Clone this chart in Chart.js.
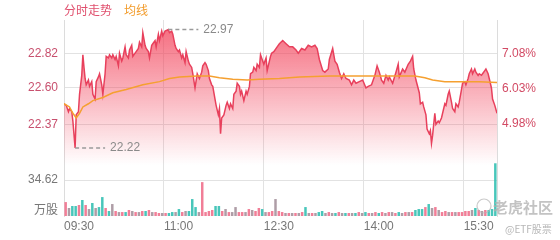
<!DOCTYPE html>
<html>
<head>
<meta charset="utf-8">
<script src="https://cdn.jsdelivr.net/npm/chart.js@4.4.1/dist/chart.umd.min.js"></script>
<style>
  html, body { margin: 0; padding: 0; background: #fff; }
  #wrap { width: 560px; height: 240px; }
</style>
</head>
<body>
<div id="wrap"><canvas id="fenshiChart" width="560" height="240"></canvas></div>
<script>
// intraday data, minutes after 09:30
const prevClose = 21.31;

const priceTimes = [
  0, 2, 4, 5, 7, 8, 10, 11, 13, 14, 16, 17, 18, 19, 20, 22, 23, 25, 26, 28,
  29, 31, 32, 34, 35, 37, 38, 40, 41, 43, 44, 46, 47, 49, 50, 52, 53, 55, 56, 58,
  59, 61, 62, 64, 65, 67, 68, 70, 71, 73, 74, 76, 77, 79, 80, 82, 83, 85, 86, 88,
  89, 91, 94, 95, 97, 98, 100, 101, 103, 104, 106, 107, 109, 110, 112, 113, 115, 116, 118, 120,
  122, 124, 125, 127, 128, 130, 131, 133, 134, 136, 137, 139, 140, 141, 142, 144, 146, 147, 149, 150,
  152, 153, 155, 156, 158, 159, 160, 162, 164, 165, 167, 168, 170, 171, 173, 174, 176, 177, 178, 180,
  182, 183, 185, 186, 187, 189, 192, 194, 197, 200, 203, 206, 209, 211, 214, 217, 220, 223, 226, 228,
  230, 233, 235, 238, 239, 242, 244, 246, 248, 250, 252, 254, 257, 259, 261, 263, 266, 269, 272, 274,
  277, 280, 282, 284, 286, 288, 290, 292, 293, 296, 299, 301, 302, 305, 307, 310, 312, 314, 315, 317,
  320, 321, 323, 324, 326, 327, 329, 330, 331, 332, 334, 335, 337, 338, 340, 341, 343, 344, 346, 347,
  349, 350, 352, 353, 355, 356, 358, 359, 361, 362, 364, 365, 367, 368, 370, 371, 373, 374, 376, 377,
  379, 380, 382, 383, 385, 386, 388, 390
];
const priceValues = [
  22.50, 22.49, 22.45, 22.47, 22.45, 22.39, 22.22, 22.43, 22.45, 22.56, 22.68, 22.81, 22.73, 22.66, 22.62, 22.65, 22.61, 22.64, 22.56, 22.53,
  22.64, 22.67, 22.69, 22.62, 22.56, 22.69, 22.80, 22.79, 22.81, 22.79, 22.81, 22.78, 22.80, 22.74, 22.82, 22.77, 22.79, 22.86, 22.81, 22.79,
  22.84, 22.87, 22.80, 22.82, 22.83, 22.85, 22.89, 22.86, 22.95, 22.87, 22.85, 22.83, 22.79, 22.87, 22.88, 22.90, 22.86, 22.94, 22.90, 22.96,
  22.93, 22.96, 22.97, 22.95, 22.96, 22.94, 22.87, 22.85, 22.83, 22.84, 22.79, 22.81, 22.76, 22.83, 22.77, 22.75, 22.73, 22.69, 22.60, 22.69,
  22.66, 22.70, 22.74, 22.76, 22.75, 22.71, 22.66, 22.62, 22.61, 22.53, 22.49, 22.43, 22.47, 22.31, 22.41, 22.43, 22.49, 22.51, 22.47, 22.50,
  22.47, 22.56, 22.58, 22.63, 22.61, 22.56, 22.58, 22.52, 22.58, 22.56, 22.61, 22.69, 22.70, 22.73, 22.71, 22.75, 22.73, 22.81, 22.79, 22.75,
  22.79, 22.71, 22.77, 22.80, 22.82, 22.83, 22.86, 22.88, 22.90, 22.88, 22.86, 22.86, 22.84, 22.82, 22.85, 22.84, 22.87, 22.86, 22.87, 22.85,
  22.78, 22.71, 22.70, 22.72, 22.78, 22.85, 22.77, 22.75, 22.70, 22.66, 22.69, 22.66, 22.65, 22.62, 22.65, 22.63, 22.64, 22.65, 22.60, 22.61,
  22.62, 22.68, 22.74, 22.70, 22.65, 22.63, 22.68, 22.65, 22.67, 22.63, 22.70, 22.75, 22.67, 22.72, 22.70, 22.75, 22.77, 22.80, 22.72, 22.65,
  22.57, 22.50, 22.51, 22.48, 22.43, 22.34, 22.31, 22.33, 22.25, 22.30, 22.44, 22.37, 22.39, 22.38, 22.41, 22.44, 22.50, 22.49, 22.56, 22.58,
  22.51, 22.47, 22.45, 22.50, 22.48, 22.51, 22.59, 22.63, 22.64, 22.62, 22.66, 22.69, 22.72, 22.69, 22.72, 22.70, 22.68, 22.69, 22.68, 22.69,
  22.71, 22.72, 22.69, 22.66, 22.60, 22.53, 22.49, 22.44
];

const avgTimes = [0, 5, 8, 11, 14, 17, 22, 26, 35, 44, 56, 71, 86, 95, 104, 120, 131, 140, 152, 165, 176, 194, 212, 239, 266, 316, 325, 332, 343, 360, 374, 390];
const avgValues = [
  22.50, 22.48, 22.44, 22.41, 22.44, 22.48, 22.50, 22.52, 22.54, 22.57, 22.59, 22.62, 22.64, 22.66, 22.67, 22.675,
  22.675, 22.665, 22.655, 22.65, 22.655, 22.66, 22.67, 22.675, 22.675, 22.675, 22.665, 22.65, 22.64, 22.64, 22.64, 22.635
];

// volume in 万股, one bucket per 3 minutes
const volumeValues = [
  13.4, 7.7, 9.6, 9.6, 10.6, 15.4, 10.6, 6.7, 12.5, 7.7,
  8.6, 18.2, 7.7, 4.8, 11.5, 4.8, 3.8, 3.8, 3.8, 5.8,
  4.8, 3.8, 3.8, 4.8, 4.8, 5.8, 3.8, 3.8, 2.9, 2.9,
  2.9, 2.9, 3.8, 3.8, 6.7, 3.8, 4.8, 4.8, 16.3, 8.6,
  3.8, 32.6, 3.8, 4.8, 5.8, 9.6, 9.6, 4.8, 6.7, 3.8,
  3.8, 8.6, 3.8, 3.8, 3.8, 6.7, 5.8, 4.8, 7.7, 6.7,
  3.8, 3.8, 4.8, 16.3, 4.8, 3.8, 2.9, 2.9, 2.9, 2.9,
  2.9, 3.8, 8.6, 2.9, 2.9, 2.9, 3.8, 4.8, 2.9, 3.8,
  2.9, 2.9, 3.8, 2.9, 2.9, 2.9, 2.9, 2.9, 3.8, 2.9,
  3.8, 2.9, 2.9, 3.8, 2.9, 3.8, 2.9, 3.8, 3.8, 2.9,
  3.8, 2.9, 3.8, 3.8, 3.8, 5.8, 6.7, 6.7, 8.6, 11.5,
  7.7, 8.6, 5.8, 3.8, 4.8, 3.8, 3.8, 3.8, 3.8, 3.8,
  4.8, 4.8, 5.8, 7.7, 5.8, 4.8, 5.8, 5.8, 6.7, 50.7
];
// u = up (pink), d = down (teal), n = flat (grey)
const volumeDirs = [
  'unddudundn', 'ddudnunudu', 'nunudunuun', 'uddndunddd', 'nuuuuddunu',
  'nnuununuud', 'nuunuununu', 'nudnunddnu', 'ndundundun', 'dunudununu',
  'dnunudddud', 'nunuununuu', 'uundunuddd'
].join('').split('');

const timeTicks = [0, 90, 180, 270, 360];
const timeLabels = ['09:30', '11:00', '12:30', '14:00', '15:30'];
const priceTicks = [22.82, 22.60, 22.37];
const pctTicks = [7.08, 6.03, 4.98];
const volumeTick = 34.62;
const volumeUnit = '万股';

const priceMin = 21.79;
const priceMax = 23.03;

const dirColors = { u: 'rgba(240,112,140,0.9)', d: 'rgba(52,192,178,0.9)', n: 'rgba(160,140,150,0.85)' };

const volumeTimes = volumeValues.map((_, i) => i * 3 + 1.5);

const overlayPlugin = {
  id: 'overlay',
  afterDatasetsDraw(chart) {
    const { ctx, chartArea, scales } = chart;
    ctx.save();

    // legend text
    ctx.font = "12px 'Noto Sans CJK SC', sans-serif";
    ctx.textBaseline = 'middle';
    ctx.textAlign = 'left';
    ctx.fillStyle = '#e0506e';
    ctx.fillText('分时走势', chartArea.left, 10);
    ctx.fillStyle = '#f29b2a';
    ctx.fillText('均线', chartArea.left + 60, 10);

    // volume axis labels (left side, below the price labels)
    ctx.textAlign = 'right';
    ctx.fillStyle = '#777';
    ctx.font = "12px 'Liberation Sans', sans-serif";
    ctx.fillText(volumeTick.toFixed(2), chartArea.left - 6, scales.yVol.getPixelForValue(volumeTick));
    ctx.font = "12px 'Noto Sans CJK SC', sans-serif";
    ctx.fillText(volumeUnit, chartArea.left - 6, chartArea.bottom - 7);
    ctx.textAlign = 'left';

    // high / low markers
    const hi = priceValues.indexOf(Math.max(...priceValues));
    const lo = priceValues.indexOf(Math.min(...priceValues));
    [hi, lo].forEach(i => {
      const px = scales.x.getPixelForValue(priceTimes[i]);
      const py = scales.y.getPixelForValue(priceValues[i]);
      ctx.strokeStyle = '#9a9a9a';
      ctx.lineWidth = 1.5;
      ctx.setLineDash([4, 3]);
      ctx.beginPath();
      ctx.moveTo(px, py);
      ctx.lineTo(px + 30, py);
      ctx.stroke();
      ctx.setLineDash([]);
      ctx.fillStyle = '#8a8a8a';
      ctx.font = "12px 'Liberation Sans', sans-serif";
      ctx.fillText(priceValues[i].toFixed(2), px + 35, py);
    });

    // watermark
    ctx.strokeStyle = 'rgba(180,180,180,0.7)';
    ctx.lineWidth = 1.2;
    ctx.beginPath();
    ctx.arc(484, 206, 7, 0, Math.PI * 2);
    ctx.stroke();
    ctx.fillStyle = 'rgba(175,175,175,0.75)';
    ctx.font = "bold 15px 'Noto Sans CJK SC', sans-serif";
    ctx.fillText('老虎社区', 493, 207);
    ctx.font = "10px 'Noto Sans CJK SC', sans-serif";
    ctx.fillStyle = 'rgba(170,170,170,0.85)';
    ctx.fillText('@ETF股票', 505, 229);

    ctx.restore();
  }
};

Chart.defaults.font.family = "'Liberation Sans', 'Noto Sans CJK SC', sans-serif";
Chart.defaults.font.size = 12;

new Chart(document.getElementById('fenshiChart'), {
  type: 'line',
  data: {
    datasets: [
      {
        type: 'line',
        label: '均线',
        data: avgTimes.map((t, i) => ({ x: t, y: avgValues[i] })),
        yAxisID: 'y',
        borderColor: '#f5a030',
        borderWidth: 1.5,
        pointRadius: 0,
        fill: false,
        order: 0
      },
      {
        type: 'line',
        label: '分时走势',
        data: priceTimes.map((t, i) => ({ x: t, y: priceValues[i] })),
        yAxisID: 'y',
        borderColor: '#e8405c',
        borderWidth: 1.5,
        pointRadius: 0,
        fill: 'start',
        backgroundColor: (context) => {
          const area = context.chart.chartArea;
          if (!area) return 'rgba(242,64,88,0.3)';
          const g = context.chart.ctx.createLinearGradient(0, area.top, 0, area.top + 145);
          g.addColorStop(0, 'rgba(242,64,88,0.8)');
          g.addColorStop(1, 'rgba(242,64,88,0)');
          return g;
        },
        order: 1
      },
      {
        type: 'bar',
        label: '成交量',
        data: volumeTimes.map((t, i) => ({ x: t, y: volumeValues[i] })),
        yAxisID: 'yVol',
        backgroundColor: volumeDirs.map(d => dirColors[d]),
        categoryPercentage: 1,
        barPercentage: 0.75,
        order: 2
      }
    ]
  },
  options: {
    responsive: false,
    animation: false,
    events: [],
    layout: { padding: { top: 20, left: 0, right: 0, bottom: 0 } },
    plugins: {
      legend: { display: false },
      tooltip: { enabled: false }
    },
    scales: {
      x: {
        type: 'linear',
        min: 0,
        max: 390,
        offset: false,
        afterBuildTicks: (axis) => { axis.ticks = timeTicks.map(v => ({ value: v })); },
        afterFit: (axis) => { axis.height = 24; },
        ticks: {
          autoSkip: false,
          maxRotation: 0,
          align: 'start',
          padding: 3,
          color: '#777',
          callback: (v) => timeLabels[timeTicks.indexOf(v)]
        },
        grid: { color: '#e2e2e2', drawTicks: false, offset: false },
        border: { display: false }
      },
      y: {
        position: 'left',
        weight: 1,
        min: priceMin,
        max: priceMax,
        afterBuildTicks: (axis) => { axis.ticks = priceTicks.map(v => ({ value: v })); },
        afterFit: (axis) => { axis.width = 64; },
        ticks: {
          autoSkip: false,
          padding: 6,
          color: '#c8506e',
          callback: (v) => v.toFixed(2)
        },
        grid: { color: '#e2e2e2', drawTicks: false },
        border: { display: true, color: '#dcdcdc' }
      },
      yVol: {
        position: 'left',
        weight: 2,
        min: 0,
        max: 188.5,
        afterBuildTicks: (axis) => { axis.ticks = [{ value: volumeTick }]; },
        afterFit: (axis) => { axis.width = 0; },
        ticks: { display: false },
        grid: { color: '#e2e2e2', drawTicks: false },
        border: { display: false }
      },
      yPct: {
        position: 'right',
        min: (priceMin / prevClose - 1) * 100,
        max: (priceMax / prevClose - 1) * 100,
        afterBuildTicks: (axis) => { axis.ticks = pctTicks.map(v => ({ value: v })); },
        afterFit: (axis) => { axis.width = 63; },
        ticks: {
          autoSkip: false,
          padding: 5,
          color: '#d24a64',
          callback: (v) => v.toFixed(2) + '%'
        },
        grid: { display: false, drawTicks: false },
        border: { display: true, color: '#dcdcdc' }
      }
    }
  },
  plugins: [overlayPlugin]
});
</script>
</body>
</html>
